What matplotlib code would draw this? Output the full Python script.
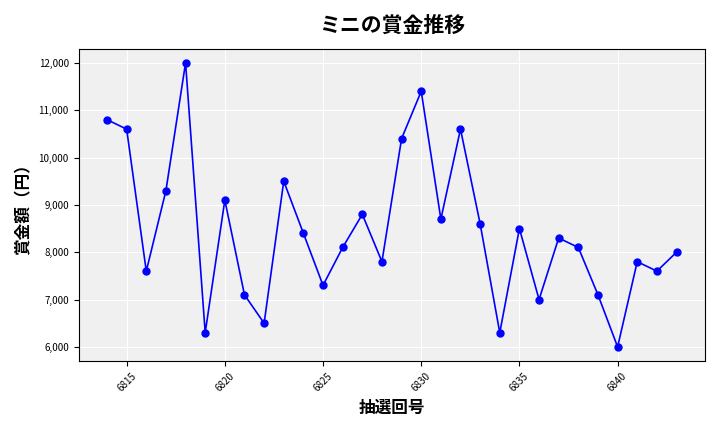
import matplotlib.pyplot as plt
from matplotlib.ticker import FuncFormatter

plt.rcParams['font.family'] = ['Noto Sans CJK JP', 'DejaVu Sans']

draws = list(range(6814, 6844))
prizes = [10800, 10600, 7600, 9300, 12000, 6300, 9100, 7100, 6500, 9500,
          8400, 7300, 8100, 8800, 7800, 10400, 11400, 8700, 10600, 8600,
          6300, 8500, 7000, 8300, 8100, 7100, 6000, 7800, 7600, 8000]

fig, ax = plt.subplots(figsize=(7.2, 4.32), dpi=100)
ax.set_facecolor('#f0f0f0')
ax.grid(True, color='white', linewidth=0.8)
ax.set_axisbelow(True)
ax.plot(draws, prizes, color='blue', marker='o', markersize=5, linewidth=1.2)

ax.set_title('ミニの賞金推移', fontsize=15, fontweight='bold', pad=12)
ax.set_xlabel('抽選回号', fontsize=12, fontweight='bold')
ax.set_ylabel('賞金額（円）', fontsize=12, fontweight='bold')
ax.set_xticks(range(6815, 6844, 5))
ax.set_yticks(range(6000, 12001, 1000))
ax.yaxis.set_major_formatter(FuncFormatter(lambda v, p: f'{int(v):,}'))
ax.tick_params(axis='x', labelrotation=45, labelsize=7)
ax.tick_params(axis='y', labelsize=7)

fig.tight_layout()
fig.savefig('out.png')
